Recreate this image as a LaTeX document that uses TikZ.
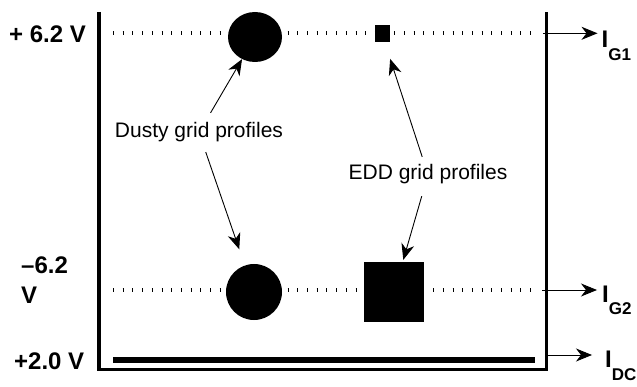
\documentclass[tikz,border=0pt]{standalone}
\usepackage{fontspec}
\setmainfont{Liberation Sans}
\usetikzlibrary{positioning,arrows.meta,shapes.geometric,calc}

\tikzset{
  volt/.style={font=\fontsize{24}{31}\selectfont\bfseries, inner sep=0pt},
  note/.style={font=\fontsize{21}{25}\selectfont, inner sep=2pt},
  cur/.style={font=\fontsize{24}{28}\selectfont\bfseries, inner sep=0pt},
  blob/.style={fill=black, draw=none, inner sep=0pt},
  wall/.style={line width=3.5pt},
  ticks/.style={line width=4pt, dash pattern=on 1pt off 8.7pt},
  arr/.style={-{Stealth[length=16pt,width=13pt,inset=5pt]}, line width=0.9pt}
}
\newcommand{\subcur}[1]{\raisebox{-13pt}{\fontsize{17}{17}\selectfont #1}}

\begin{document}
\begin{tikzpicture}[x=1pt,y=-1pt]
        \useasboundingbox (0,0) rectangle (637,387);
        % chamber walls
        \draw[wall] (99,12) -- (99,369.5) -- (546.5,369.5) -- (546.5,12);
        % grid planes
        \draw[ticks] (113,33.3) -- (532,33.3);
        \draw[ticks] (113,290.5) -- (532,290.5);
        \draw[line width=6pt] (113,360) -- (535,360);
        % profiles
        \node[blob, ellipse, minimum width=54pt, minimum height=50pt] (dustA) at (255,37) {};
        \node[blob, circle, minimum size=56pt] (dustB) at (254,292) {};
        \node[blob, rectangle, minimum width=15pt, minimum height=17pt] (eddA) at (382,34) {};
        \node[blob, rectangle, minimum size=60pt] (eddB) at (394,292) {};
        % voltages
        \node[volt, anchor=base west] (vtop) at (9,42.5) {+ 6.2 V};
        \node[volt, anchor=base west, align=left] (vmid) at (21,304) {–6.2\\V};
        \node[volt, anchor=base west] (vdc) at (14,369) {+2.0 V};
        % labels
        \node[note, anchor=base] (dusty) at (199,138) {Dusty grid profiles};
        \node[note, anchor=base] (edd) at (428,180) {EDD grid profiles};
        \draw[arr, shorten <=9pt] (dusty) -- (dustA);
        \draw[arr, shorten <=8pt, shorten >=17pt] (dusty) -- (dustB);
        \draw[arr, shorten <=6pt, shorten >=17pt] (edd) -- (eddA);
        \draw[arr, shorten <=10pt, shorten >=2pt] (edd) -- (eddB);
        % currents
        \coordinate (g1out) at (543,33.3);
        \coordinate (g2out) at (542,290);
        \coordinate (dcout) at (545,355);
        \node[cur, anchor=base west] (ig1) at (601.5,48) {I\subcur{G1}};
        \node[cur, anchor=base west] (ig2) at (602,302) {I\subcur{G2}};
        \node[cur, anchor=base west] (idc) at (605,367) {I\subcur{DC}};
        \draw[arr, shorten >=4pt] (g1out) -- (g1out -| ig1.west);
        \draw[arr, shorten >=5pt] (g2out) -- (g2out -| ig2.west);
        \draw[arr, shorten >=13pt] (dcout) -- (dcout -| idc.west);
      \end{tikzpicture}
\end{document}
